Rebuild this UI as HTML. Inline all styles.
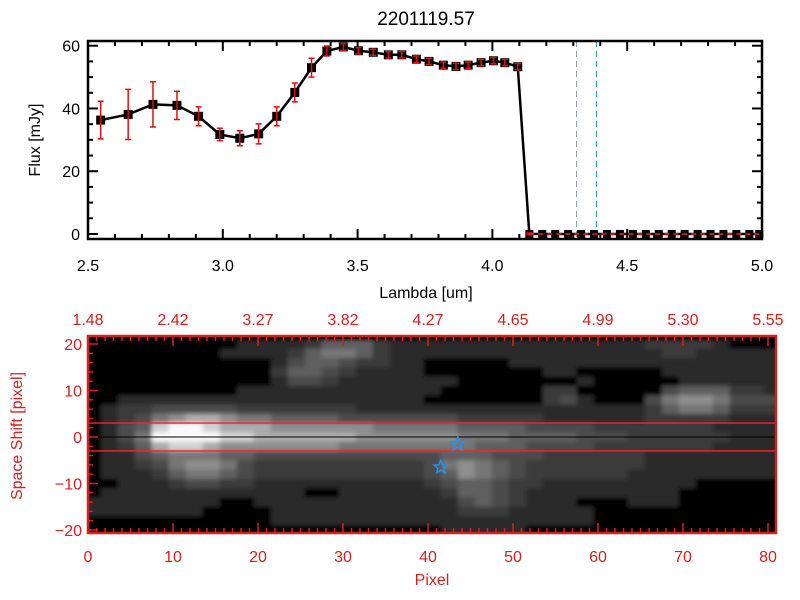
<!DOCTYPE html>
<html><head><meta charset="utf-8"><style>
html,body{margin:0;padding:0;background:#fff}
svg{display:block;font-family:"Liberation Sans",sans-serif}
</style></head><body>
<svg id="chart" width="800" height="600" viewBox="0 0 800 600">
<defs>
<filter id="soft" x="0" y="0" width="1" height="1"><feGaussianBlur stdDeviation="2.2"/></filter>
<clipPath id="imgclip"><rect x="88" y="336" width="688" height="197"/></clipPath>
</defs>
<text x="426" y="25" font-size="19" text-anchor="middle">2201119.57</text>
<g id="top"></g>
<g id="bot"></g>
<text x="426" y="298" font-size="16" text-anchor="middle">Lambda [um]</text>
<text x="0" y="0" font-size="16" text-anchor="middle" transform="translate(40,140) rotate(-90)">Flux [mJy]</text>
<text x="432" y="585" font-size="16" fill="#d42020" text-anchor="middle">Pixel</text>
<text x="0" y="0" font-size="16" fill="#d42020" text-anchor="middle" transform="translate(22,436) rotate(-90)">Space Shift [pixel]</text>
</svg>
<script>
const lambda=[2.547,2.649,2.741,2.830,2.910,2.989,3.063,3.133,3.200,3.267,3.329,3.386,3.447,3.503,3.558,3.614,3.664,3.718,3.765,3.818,3.865,3.910,3.958,4.004,4.046,4.094,4.137,4.185,4.233,4.281,4.329,4.377,4.425,4.473,4.521,4.569,4.617,4.665,4.713,4.761,4.809,4.857,4.905,4.953,4.990];
const flux=[36.3,38.1,41.3,41.0,37.5,31.7,30.5,31.9,37.5,45.1,53.0,58.3,59.6,58.4,57.9,57.1,57.1,55.7,55.0,53.8,53.4,53.8,54.6,55.2,54.6,53.3,0,0,0,0,0,0,0,0,0,0,0,0,0,0,0,0,0,0,0];
const fluxErr=[6,8,7.2,4.5,3,2,2.4,3.2,3,3,3,1.6,1,1,1,1,1,1,1,1,1,1,1,1,1,1,0.3,0,0,0,0,0,0,0,0,0,0,0,0,0,0,0,0,0,0];
const xTicks=[2.5,3.0,3.5,4.0,4.5,5.0];
const xTickLabels=["2.5","3.0","3.5","4.0","4.5","5.0"];
const yTicks=[0,20,40,60];
const markerLines=[4.312,4.386];
const pixTicks=[0,10,20,30,40,50,60,70,80];
const topLabels=["1.48","2.42","3.27","3.82","4.27","4.65","4.99","5.30","5.55"];
const shiftTicks=[-20,-10,0,10,20];
const stars=[[43.5,-1.5],[41.5,-6.5]];
const heat=[
"00000000011112444211111111111111122221000",
"00000000111124554211111111111111112211111",
"00000000000134432211000001111111111111111",
"00000000000244321111000000011000001111111",
"00000000000133211111110000000100000111111",
"00000000011111111111100000022000003444221",
"00111111111111111111000000023100035665333",
"01223333322222221111111111111111124554222",
"01235677655444433333332222211111122222111",
"01348998777666666555554444333322222221111",
"01359999887777776666665554444333222222111",
"01247887666666655555555444333322222221111",
"01134555443333333333344433322222211111111",
"01123566532222222222356543222222211111111",
"01112455432222222222346543222222111111111",
"00111233221111111111234432211111111100000",
"01111111111110011111124432111111111000000",
"11111111001111111111113432111000111000000",
"11111110000111111111112221111100000000000",
"00000000000111111111111111111100000000000",
"00000000000000000000011111000000000000000"];
const grayLevels=[0,42,58,75,95,118,142,172,210,250];
const NS="http://www.w3.org/2000/svg";
function mk(p,t,a){const e=document.createElementNS(NS,t);for(const k in a)e.setAttribute(k,a[k]);p.appendChild(e);return e;}
const T=document.getElementById('top');
const L=88,R=762,TT=41,TB=239,ymin=-1.6,ymax=61.5;
const sx=v=>L+(v-2.5)/2.5*(R-L);
const sy=v=>TB-(v-ymin)/(ymax-ymin)*(TB-TT);
for(let v=2.5;v<=5.001;v+=0.1){const x=sx(v);const maj=Math.abs(v*2-Math.round(v*2))<1e-6;const len=maj?10:5;
 let t=mk(T,'line',{x1:x,y1:TB,x2:x,y2:TB-len,stroke:'#000','stroke-width':2});
 t=mk(T,'line',{x1:x,y1:TT,x2:x,y2:TT+len,stroke:'#000','stroke-width':2});}
for(let v=0;v<=60;v+=5){const y=sy(v);const len=v%20==0?10:5;
 let t=mk(T,'line',{x1:L,y1:y,x2:L+len,y2:y,stroke:'#000','stroke-width':2});
 t=mk(T,'line',{x1:R,y1:y,x2:R-len,y2:y,stroke:'#000','stroke-width':2});}
xTicks.forEach((v,i)=>{const t=mk(T,'text',{x:sx(v),y:271,'font-size':16,'text-anchor':'middle'});t.textContent=xTickLabels[i];});
yTicks.forEach(v=>{const t=mk(T,'text',{x:80,y:sy(v)+6,'font-size':16,'text-anchor':'end'});t.textContent=String(v);});
markerLines.forEach((v,i)=>{const l=mk(T,'line',{x1:sx(v),y1:TT,x2:sx(v),y2:TB,stroke:i?'#2a8fe8':'#8aa0b8','stroke-width':1,'stroke-dasharray':'6,4'});});
let pts=lambda.map((v,i)=>sx(v)+','+sy(flux[i])).join(' ');
let pl=mk(T,'polyline',{points:pts,fill:'none',stroke:'#000','stroke-width':2.5});
lambda.forEach((v,i)=>{const x=sx(v),y=sy(flux[i]);const s=flux[i]>0?9:8;
 const r=mk(T,'rect',{x:x-s/2,y:y-s/2,width:s,height:s,fill:'#000'});
 if(fluxErr[i]>0){const y1=sy(flux[i]+fluxErr[i]),y2=sy(flux[i]-fluxErr[i]);
  const g=mk(T,'path',{d:`M${x},${y1}V${y2}M${x-3},${y1}H${x+3}M${x-3},${y2}H${x+3}`,stroke:'#e01010','stroke-width':1.5,fill:'none'});}});
let zl=mk(T,'line',{x1:sx(lambda[26]),y1:sy(0),x2:R,y2:sy(0),stroke:'#ff2020','stroke-width':1.5,'stroke-dasharray':'5,4'});
let fr=mk(T,'rect',{x:L,y:TT,width:R-L,height:TB-TT,fill:'none',stroke:'#000','stroke-width':2.5});
const B=document.getElementById('bot');
const BL=88,BR=776,BT=336,BB=533;
const px=p=>BL+p*8.5;
const py=s=>437-s*4.65;
const bg=mk(B,'rect',{x:BL,y:BT,width:BR-BL,height:BB-BT,fill:'#000'});


const clipG=mk(B,'g',{'clip-path':'url(#imgclip)'});
const HG=mk(clipG,'g',{filter:'url(#soft)'});
heat.forEach((row,r)=>{for(let c=0;c<41;c++){const v=+row[c]||0;const g=grayLevels[v];
 const x0=px(c*2-0.5),x1=px(c*2+1.5);const yc=20-2*r;const y0=py(yc+1),y1=py(yc-1);
 const e=mk(HG,'rect',{x:x0,y:y0,width:x1-x0+0.5,height:y1-y0+0.5,fill:`rgb(${g},${g},${g})`});
 
 }});
let l0=mk(B,'line',{x1:BL,y1:py(0),x2:BR,y2:py(0),stroke:'#000','stroke-width':1});
[3,-3].forEach(s=>{const l=mk(B,'line',{x1:BL,y1:py(s),x2:BR,y2:py(s),stroke:'#ff2020','stroke-width':1.3});});
stars.forEach(([p,s])=>{const cx=px(p),cy=py(s),R1=7,R2=3;let d='';for(let k=0;k<10;k++){const a=-Math.PI/2+k*Math.PI/5,rr=k%2?R2:R1;d+=(k?'L':'M')+(cx+rr*Math.cos(a)).toFixed(1)+','+(cy+rr*Math.sin(a)).toFixed(1);}
 const st=mk(B,'path',{d:d+'Z',fill:'none',stroke:'#2a8fe8','stroke-width':1.5});});
for(let p=0;p<=80;p++){const x=px(p);const len=p%10==0?10:5;
 let t=mk(B,'line',{x1:x,y1:BB,x2:x,y2:BB-len,stroke:'#d42020','stroke-width':1.5});
 t=mk(B,'line',{x1:x,y1:BT,x2:x,y2:BT+len,stroke:'#d42020','stroke-width':1.5});}
for(let s=-20;s<=20;s+=2){const y=py(s);const len=s%10==0?10:5;
 let t=mk(B,'line',{x1:BL,y1:y,x2:BL+len,y2:y,stroke:'#d42020','stroke-width':1.5});}
pixTicks.forEach((p,i)=>{let t=mk(B,'text',{x:px(p),y:562,'font-size':16,fill:'#d42020','text-anchor':'middle'});t.textContent=String(p);
 t=mk(B,'text',{x:px(p),y:325,'font-size':16,fill:'#d42020','text-anchor':'middle'});t.textContent=topLabels[i];});
shiftTicks.forEach(s=>{const t=mk(B,'text',{x:82,y:py(s)+6,'font-size':16,fill:'#d42020','text-anchor':'end'});t.textContent=s<0?'\u2212'+(-s):String(s);});
let bf=mk(B,'rect',{x:BL,y:BT,width:BR-BL,height:BB-BT,fill:'none',stroke:'#d42020','stroke-width':2.5});
</script>
</body></html>
